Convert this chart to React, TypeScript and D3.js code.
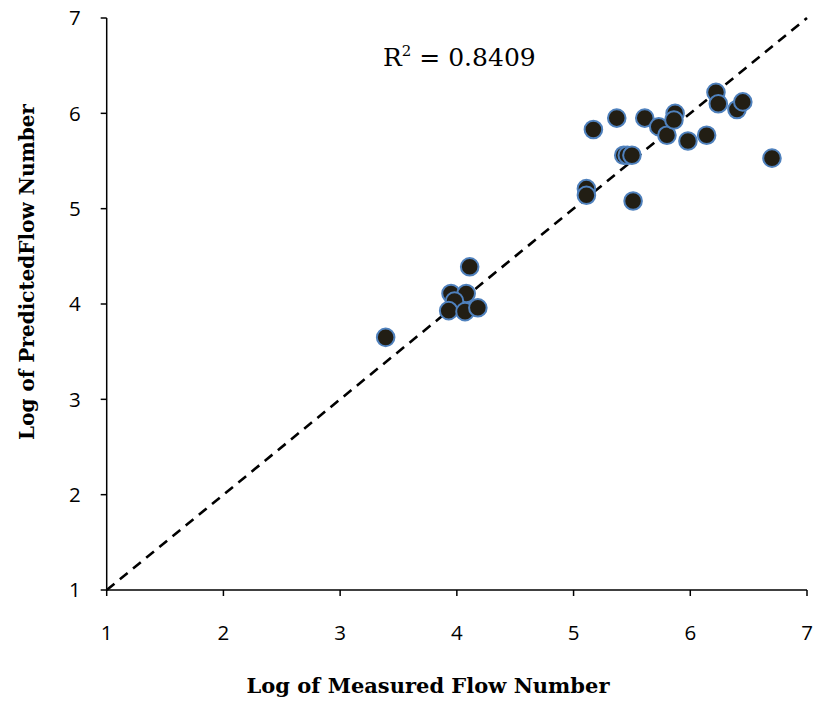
import * as d3 from "d3";

const measured = [
  5.17, 5.37, 5.61, 5.73, 5.8, 5.87, 5.86, 5.98, 6.14, 6.22, 6.24, 6.4, 6.45, 6.7,
  5.43, 5.46, 5.5, 5.11, 5.11, 5.51,
  4.11, 3.39, 3.95, 4.08, 3.98, 3.93, 4.07, 4.18,
];
const predicted = [
  5.83, 5.95, 5.95, 5.86, 5.77, 6.0, 5.93, 5.71, 5.77, 6.22, 6.1, 6.04, 6.12, 5.53,
  5.56, 5.56, 5.56, 5.21, 5.14, 5.08,
  4.39, 3.65, 4.11, 4.11, 4.03, 3.93, 3.92, 3.96,
];
const ticks = [1, 2, 3, 4, 5, 6, 7];
const fitLine = [1, 7];
const r2Label = "0.8409";

export default function App() {
  const W = 814;
  const H = 704;
  const m = { left: 106.7, right: 7, top: 18, bottom: 114 };
  const x = d3.scaleLinear().domain([1, 7]).range([m.left, W - m.right]);
  const y = d3.scaleLinear().domain([1, 7]).range([H - m.bottom, m.top]);
  const tickFont = "'Open Sans', 'Liberation Sans', sans-serif";
  const serif = "'DejaVu Serif', 'Liberation Serif', serif";
  const pts = measured.map((v, i) => ({ x: v, y: predicted[i] }));
  const line = d3.line<number>().x((d) => x(d)).y((d) => y(d));

  return (
    <div style={{ position: "absolute", left: 0, top: 0 }}>
      <svg width={W} height={H} style={{ display: "block", background: "#fff" }}>
        {/* dashed 1:1 line */}
        <path
          d={line(fitLine) || ""}
          fill="none"
          stroke="#000"
          strokeWidth={2.6}
          strokeDasharray="10,7"
        />
        {/* axes */}
        <line x1={x(1)} x2={x(7)} y1={y(1)} y2={y(1)} stroke="#000" strokeWidth={1.5} />
        <line x1={x(1)} x2={x(1)} y1={y(1)} y2={y(7)} stroke="#000" strokeWidth={1.5} />
        {ticks.map((t) => (
          <g key={"x" + t}>
            <line x1={x(t)} x2={x(t)} y1={y(1)} y2={y(1) + 6} stroke="#000" strokeWidth={1.5} />
            <text
              x={x(t)}
              y={y(1) + 50}
              textAnchor="middle"
              fontFamily={tickFont}
              fontSize={20.5}
              fill="#000"
            >
              {t}
            </text>
          </g>
        ))}
        {ticks.map((t) => (
          <g key={"y" + t}>
            <line x1={x(1) - 6} x2={x(1)} y1={y(t)} y2={y(t)} stroke="#000" strokeWidth={1.5} />
            <text
              x={x(1) - 26}
              y={y(t)}
              dy="0.36em"
              textAnchor="end"
              fontFamily={tickFont}
              fontSize={20.5}
              fill="#000"
            >
              {t}
            </text>
          </g>
        ))}
        {/* points */}
        {pts.map((p, i) => (
          <circle
            key={i}
            cx={x(p.x)}
            cy={y(p.y)}
            r={8.8}
            fill="#221e14"
            stroke="#4f81bd"
            strokeWidth={2}
          />
        ))}
        {/* R squared */}
        <text x={383} y={66} fontFamily={serif} fontSize={25} fill="#000">
          R<tspan dy={-10} fontSize={15}>2</tspan>
          <tspan dy={10}> = {r2Label}</tspan>
        </text>
        {/* axis titles */}
        <text
          x={428}
          y={693}
          textAnchor="middle"
          fontFamily={serif}
          fontWeight="bold"
          fontSize={21}
          fill="#000"
        >
          Log of Measured Flow Number
        </text>
        <text
          transform={`translate(34,272) rotate(-90)`}
          textAnchor="middle"
          fontFamily={serif}
          fontWeight="bold"
          fontSize={20}
          fill="#000"
        >
          Log of PredictedFlow Number
        </text>
      </svg>
    </div>
  );
}
